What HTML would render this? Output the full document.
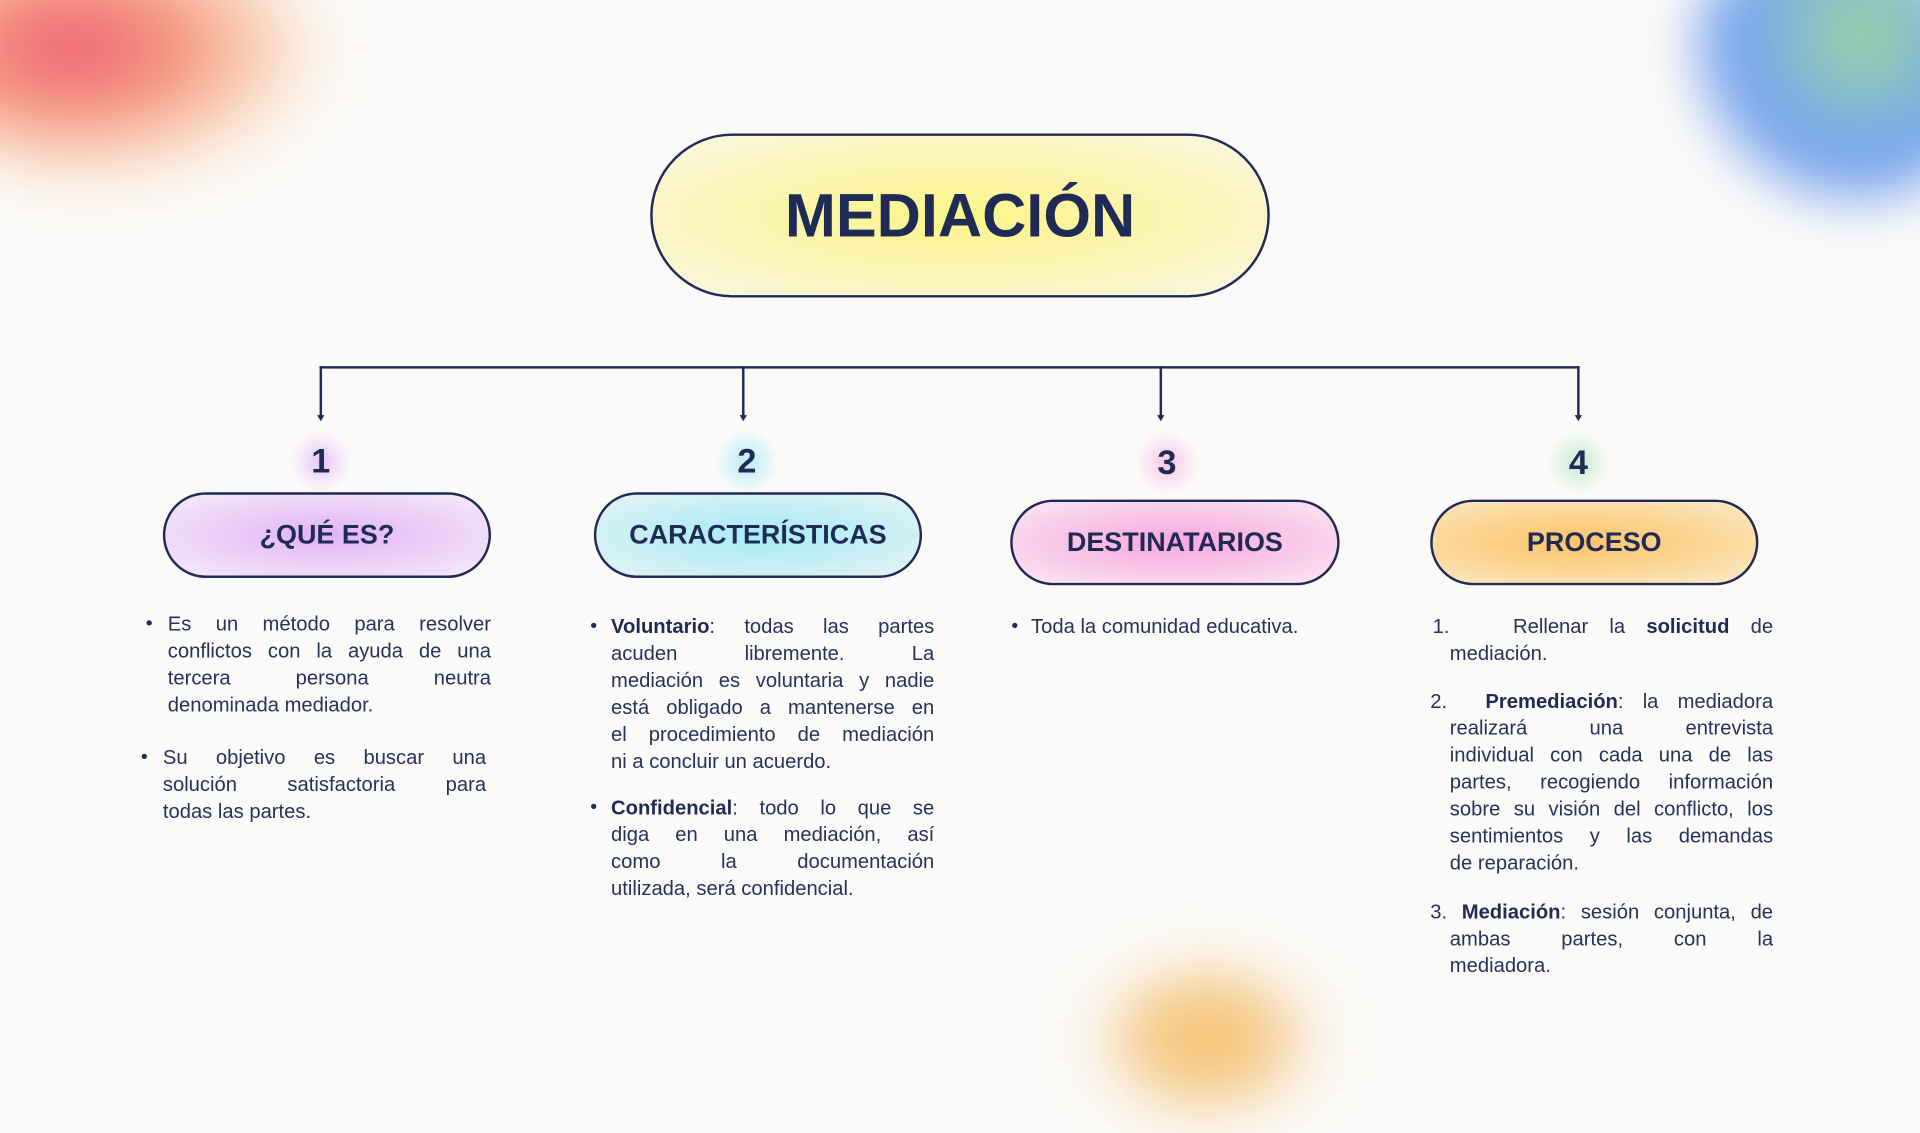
<!DOCTYPE html>
<html><head><meta charset="utf-8"><style>
*{margin:0;padding:0;box-sizing:border-box}
html,body{width:1920px;height:1080px;overflow:hidden;background:#fbfaf8}
#w{position:absolute;left:0;top:0;width:1568px;height:882px;transform:scale(1.22449);transform-origin:0 0;font-family:"Liberation Sans",sans-serif;color:#1f2a55}
.blob{position:absolute;border-radius:50%;filter:blur(22px)}
.pill{position:absolute;border:2px solid #1f2a55;border-radius:40px;display:flex;align-items:center;justify-content:center;font-weight:bold;font-size:22px}
.num{position:absolute;width:50px;height:50px;margin-left:-25px;margin-top:-25px;border-radius:50%;display:flex;align-items:center;justify-content:center;font-weight:bold;font-size:28px}
.line{position:absolute;background:#1f2a55}
.arr{position:absolute;width:0;height:0;border-left:3px solid transparent;border-right:3px solid transparent;border-top:5px solid #1f2a55}
.t{position:absolute;font-size:16.5px;line-height:22px;color:#27315e}
.t div.j{text-align:justify;text-align-last:justify}
.t b{color:#1f2a55}
.bul{position:absolute;font-size:16px;line-height:22px}
</style></head><body><div id="w">
<div class="blob" style="left:-60px;top:-60px;width:340px;height:220px;background:radial-gradient(ellipse at 35% 45%,#ee5a78 0%,#f59a80 30%,rgba(250,200,160,.5) 55%,rgba(251,250,248,0) 70%)"></div>
<div class="blob" style="left:1370px;top:-50px;width:250px;height:225px;background:radial-gradient(circle at 60% 35%,#9fd89a 0%,#7fb3e0 35%,#6d9af0 55%,rgba(251,250,248,0) 70%)"></div>
<div class="blob" style="left:880px;top:785px;width:210px;height:140px;background:radial-gradient(ellipse at 50% 45%,#f5c070 0%,#f6c880 30%,rgba(245,205,160,.4) 55%,rgba(251,250,248,0) 70%)"></div>

<div class="pill" style="left:531px;top:109px;width:506px;height:134px;border-radius:67px;font-size:50px;background:radial-gradient(ellipse at 50% 50%,#fbf58a 0%,#fbf4b8 55%,#faf7e6 100%)">MEDIACIÓN</div>

<div class="line" style="left:261px;top:299px;width:1029px;height:2px"></div>
<div class="line" style="left:261px;top:299px;width:2px;height:41px"></div>
<div class="line" style="left:606px;top:299px;width:2px;height:41px"></div>
<div class="line" style="left:947px;top:299px;width:2px;height:41px"></div>
<div class="line" style="left:1288px;top:299px;width:2px;height:41px"></div>
<div class="arr" style="left:259px;top:339px"></div>
<div class="arr" style="left:604px;top:339px"></div>
<div class="arr" style="left:945px;top:339px"></div>
<div class="arr" style="left:1286px;top:339px"></div>

<div class="num" style="left:262px;top:377px;background:radial-gradient(circle,#e6c6f7 0%,rgba(240,220,250,.5) 50%,rgba(251,250,248,0) 72%)">1</div>
<div class="num" style="left:610px;top:377px;background:radial-gradient(circle,#b8ecf4 0%,rgba(200,240,248,.5) 50%,rgba(251,250,248,0) 72%)">2</div>
<div class="num" style="left:953px;top:378px;background:radial-gradient(circle,#f7c6e6 0%,rgba(250,215,238,.5) 50%,rgba(251,250,248,0) 72%)">3</div>
<div class="num" style="left:1289px;top:378px;background:radial-gradient(circle,#c9ebd2 0%,rgba(215,240,220,.5) 50%,rgba(251,250,248,0) 72%)">4</div>

<div class="pill" style="left:133px;top:402px;width:268px;height:70px;background:radial-gradient(ellipse at 50% 50%,#e2b2f7 0%,#ecd0f7 50%,#f5ecf8 100%)">¿QUÉ ES?</div>
<div class="pill" style="left:485px;top:402px;width:268px;height:70px;background:radial-gradient(ellipse at 50% 50%,#a8ecf8 0%,#c4eef5 50%,#e8f4f4 100%)">CARACTERÍSTICAS</div>
<div class="pill" style="left:825px;top:408px;width:269px;height:70px;background:radial-gradient(ellipse at 50% 50%,#f9a8de 0%,#f9c6e8 50%,#fae8f3 100%)">DESTINATARIOS</div>
<div class="pill" style="left:1168px;top:408px;width:268px;height:70px;background:radial-gradient(ellipse at 45% 50%,#fcc46a 0%,#fcd490 45%,#fceacb 100%)">PROCESO</div>

<div class="bul" style="left:119px;top:499px">•</div>
<div class="t" style="left:137px;top:499px;width:264px">
<div class="j">Es un método para resolver</div><div class="j">conflictos con la ayuda de una</div><div class="j">tercera persona neutra</div><div>denominada mediador.</div></div>
<div class="bul" style="left:115px;top:608px">•</div>
<div class="t" style="left:133px;top:608px;width:264px">
<div class="j">Su objetivo es buscar una</div><div class="j">solución satisfactoria para</div><div>todas las partes.</div></div>

<div class="bul" style="left:482px;top:501px">•</div>
<div class="t" style="left:499px;top:501px;width:264px">
<div class="j"><b>Voluntario</b>: todas las partes</div><div class="j">acuden libremente. La</div><div class="j">mediación es voluntaria y nadie</div><div class="j">está obligado a mantenerse en</div><div class="j">el procedimiento de mediación</div><div>ni a concluir un acuerdo.</div></div>
<div class="bul" style="left:482px;top:649px">•</div>
<div class="t" style="left:499px;top:649px;width:264px">
<div class="j"><b>Confidencial</b>: todo lo que se</div><div class="j">diga en una mediación, así</div><div class="j">como la documentación</div><div>utilizada, será confidencial.</div></div>

<div class="bul" style="left:826px;top:501px">•</div>
<div class="t" style="left:842px;top:501px;width:264px"><div>Toda la comunidad educativa.</div></div>

<div class="t" style="left:1170px;top:501px;width:278px">
<div class="j">1.&nbsp;&nbsp; Rellenar la <b>solicitud</b> de</div><div style="padding-left:14px">mediación.</div></div>
<div class="t" style="left:1168px;top:562px;width:280px">
<div class="j">2.&nbsp; <b>Premediación</b>: la mediadora</div>
<div style="padding-left:16px"><div class="j">realizará una entrevista</div><div class="j">individual con cada una de las</div><div class="j">partes, recogiendo información</div><div class="j">sobre su visión del conflicto, los</div><div class="j">sentimientos y las demandas</div><div>de reparación.</div></div></div>
<div class="t" style="left:1168px;top:734px;width:280px">
<div class="j">3. <b>Mediación</b>: sesión conjunta, de</div>
<div style="padding-left:16px"><div class="j">ambas partes, con la</div><div>mediadora.</div></div></div>
</div></body></html>
